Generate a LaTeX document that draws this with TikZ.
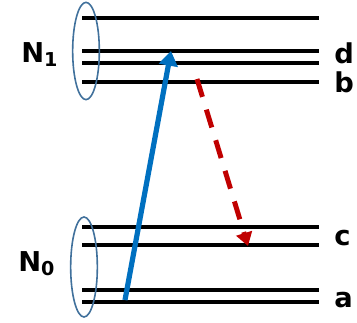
\documentclass[tikz,border=0pt]{standalone}
\usepackage{fontspec}
\setmainfont{DejaVu Sans}
\usetikzlibrary{arrows.meta,positioning,shapes.geometric}
\definecolor{lvBlue}{HTML}{0070C0}
\definecolor{lvRed}{HTML}{C00000}
\definecolor{lvRing}{HTML}{41719C}
\tikzset{
    level/.style={line width=3.4pt, black},
    ring/.style={ellipse, draw=lvRing, line width=1.2pt, minimum width=20pt, minimum height=73pt, inner sep=0pt},
    lbl/.style={font=\fontsize{20.5}{24}\selectfont\bfseries, inner sep=0pt},
    % transitions
    pump/.style={-{Triangle[length=11pt,width=14pt]}, line width=3.9pt, lvBlue},
    decay/.style={-{Triangle[length=10pt,width=12pt]}, line width=3.7pt, lvRed, dash pattern=on 14pt off 10pt}
}

\begin{document}
\begin{tikzpicture}[x=0.75pt, y=-0.75pt]

    \useasboundingbox (0,0) rectangle (357,322);

    % Levels
    \foreach \nm/\yy in {top/18, d/51, mid/63, b/82, upc/227, c/245, lowa/290, a/302} {
        \coordinate (\nm-l) at (82,\yy);
        \coordinate (\nm-r) at (319,\yy);
        \draw[level] (\nm-l) -- (\nm-r);
    }

    % Manifolds
    \node[ring] (ring1) at (86,51) {};
    \node[ring, minimum height=75pt] (ring0) at (84,267) {};

    \node[lbl, anchor=base west] (n1) at (21,62) {N\textsubscript{1}};
    \node[lbl, anchor=base west] (n0) at (18,271) {N\textsubscript{0}};

    % Level labels
    \node[lbl, anchor=base west] (ld) at (334,63) {d};
    \node[lbl, anchor=base west] (lb) at (334,92) {b};
    \node[lbl, anchor=base west] (lc) at (334,245) {c};
    \node[lbl, anchor=base west] (la) at (334,307) {a};

    % Transitions
    \coordinate (pumpstart) at (125,300);
    \coordinate (pumpend) at (171,51);
    \coordinate (decaystart) at (197,79);
    \coordinate (decayend) at (248,246);

    \draw[pump] (pumpstart) -- (pumpend);
    \draw[decay] (decaystart) -- (decayend);

\end{tikzpicture}
\end{document}
